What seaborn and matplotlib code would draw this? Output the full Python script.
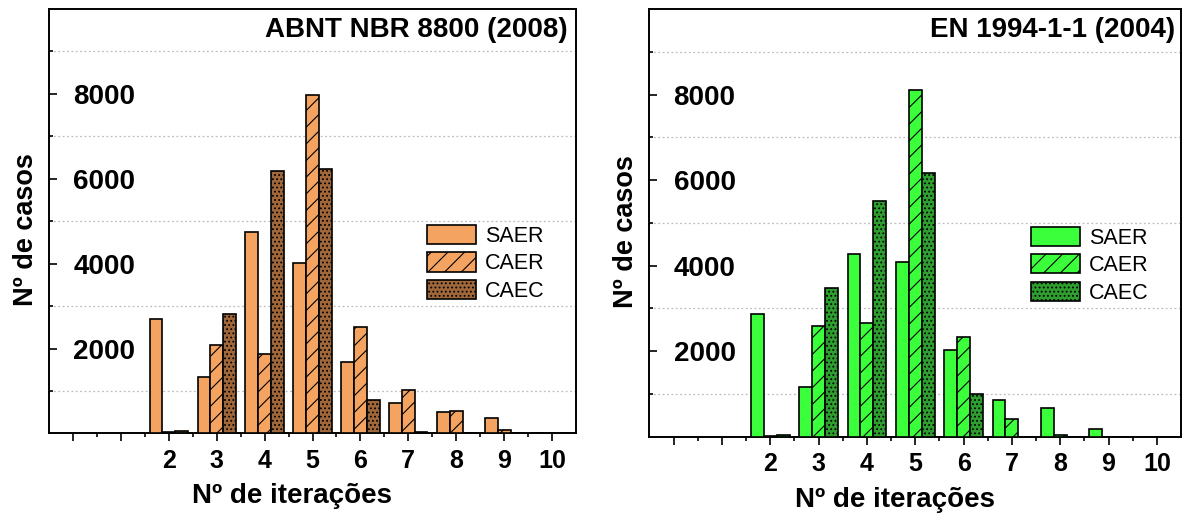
import numpy as np
import pandas as pd
import matplotlib
matplotlib.use("Agg")
import matplotlib.pyplot as plt
import seaborn as sns

# Number of iterations (categories on the x axis)
iteracoes = [2, 3, 4, 5, 6, 7, 8, 9, 10]
series = ["SAER", "CAER", "CAEC"]

# ABNT NBR 8800 (2008) – number of cases per iteration count
nbr_saer = [2700, 1330, 4750, 4015, 1680, 720, 500, 370, 15]
nbr_caer = [25, 2080, 1860, 7975, 2505, 1025, 535, 75, 10]
nbr_caec = [50, 2825, 6180, 6235, 780, 25, 0, 0, 5]

# EN 1994-1-1 (2004) – number of cases per iteration count
en_saer = [2860, 1170, 4270, 4095, 2025, 860, 680, 175, 0]
en_caer = [20, 2590, 2655, 8110, 2340, 405, 35, 0, 0]
en_caec = [35, 3480, 5510, 6170, 990, 0, 0, 0, 0]

y_ticks = [2000, 4000, 6000, 8000]
x_order = [str(i) for i in range(11)]
x_labels = ["", ""] + [str(i) for i in iteracoes]

sns.set_style("white")
plt.rcParams["font.family"] = ["Liberation Sans", "DejaVu Sans"]
plt.rcParams["hatch.linewidth"] = 0.8
for key in ["text.color", "axes.labelcolor", "xtick.color", "ytick.color"]:
    plt.rcParams[key] = "black"


def long_table(saer, caer, caec):
    frames = []
    for name, vals in zip(series, [saer, caer, caec]):
        frames.append(pd.DataFrame({"iter": [str(i) for i in iteracoes],
                                    "casos": vals, "tipo": name}))
    return pd.concat(frames, ignore_index=True)


def draw_panel(ax, df, colors, title, title_x):
    sns.barplot(data=df, x="iter", y="casos", hue="tipo", order=x_order,
                hue_order=series, palette=colors, saturation=1, width=0.8,
                edgecolor="black", linewidth=1.2, errorbar=None,
                legend=False, ax=ax, zorder=3)
    hatches = ["", "//", "...."]
    for cont, h in zip(ax.containers, hatches):
        for p in cont.patches:
            p.set_hatch(h)

    ax.set_xlim(-0.5, 10.5)
    ax.set_ylim(0, 10000)

    ax.set_xticks(range(11))
    ax.set_xticklabels(x_labels, fontsize=18, fontweight="bold")
    ax.set_xticks(np.arange(0.5, 10.0, 1.0), minor=True)
    ax.tick_params(axis="x", which="major", direction="out", length=6,
                   width=1.2, pad=5, bottom=True)
    ax.tick_params(axis="x", which="minor", direction="out", length=3,
                   width=1.2, bottom=True)

    ax.set_yticks(y_ticks)
    ax.set_yticklabels([str(v) for v in y_ticks], fontsize=20,
                       fontweight="bold")
    ax.set_yticks(np.arange(1000, 10000, 2000), minor=True)
    ax.tick_params(axis="y", which="major", direction="in", length=6,
                   width=1.2, pad=-62, left=True)
    ax.tick_params(axis="y", which="minor", direction="in", length=3,
                   width=1.2, left=True)

    ax.grid(False)
    ax.grid(which="minor", axis="y", color="#bdbdbd",
            linestyle=(0, (1.5, 2.0)), linewidth=0.9, zorder=0)
    ax.set_axisbelow(True)

    for s in ax.spines.values():
        s.set_visible(True)
        s.set_color("black")
        s.set_linewidth(1.4)

    ax.set_xlabel("Nº de iterações", fontsize=20, fontweight="bold",
                  va="center")
    ax.xaxis.set_label_coords(0.462, -0.1475)
    ax.set_ylabel("Nº de casos", fontsize=19.5, fontweight="bold",
                  va="center", ha="center")
    ax.yaxis.set_label_coords(-0.0435, 0.48)

    ax.text(title_x, 0.951, title, transform=ax.transAxes, ha="right",
            va="center", fontsize=20, fontweight="bold")

    ax.legend(handles=list(ax.containers), labels=series, frameon=False,
              loc="upper left", bbox_to_anchor=(0.717, 0.491),
              fontsize=15.5, borderpad=0, handlelength=2.3,
              handleheight=1.0, handletextpad=0.4, labelspacing=0.25,
              borderaxespad=0)


fig = plt.figure(figsize=(11.82, 5.16), dpi=100)
ax1 = fig.add_axes([0.04146, 0.16008, 0.44585, 0.82248])
ax2 = fig.add_axes([0.54949, 0.15349, 0.44966, 0.82907])

draw_panel(ax1, long_table(nbr_saer, nbr_caer, nbr_caec),
           ["#F4A460", "#F4A460", "#A0673A"], "ABNT NBR 8800 (2008)", 0.985)
draw_panel(ax2, long_table(en_saer, en_caer, en_caec),
           ["#3CFF3C", "#3CFF3C", "#2E9E2E"], "EN 1994-1-1 (2004)", 0.9887)

fig.savefig("out.png", dpi=100)
